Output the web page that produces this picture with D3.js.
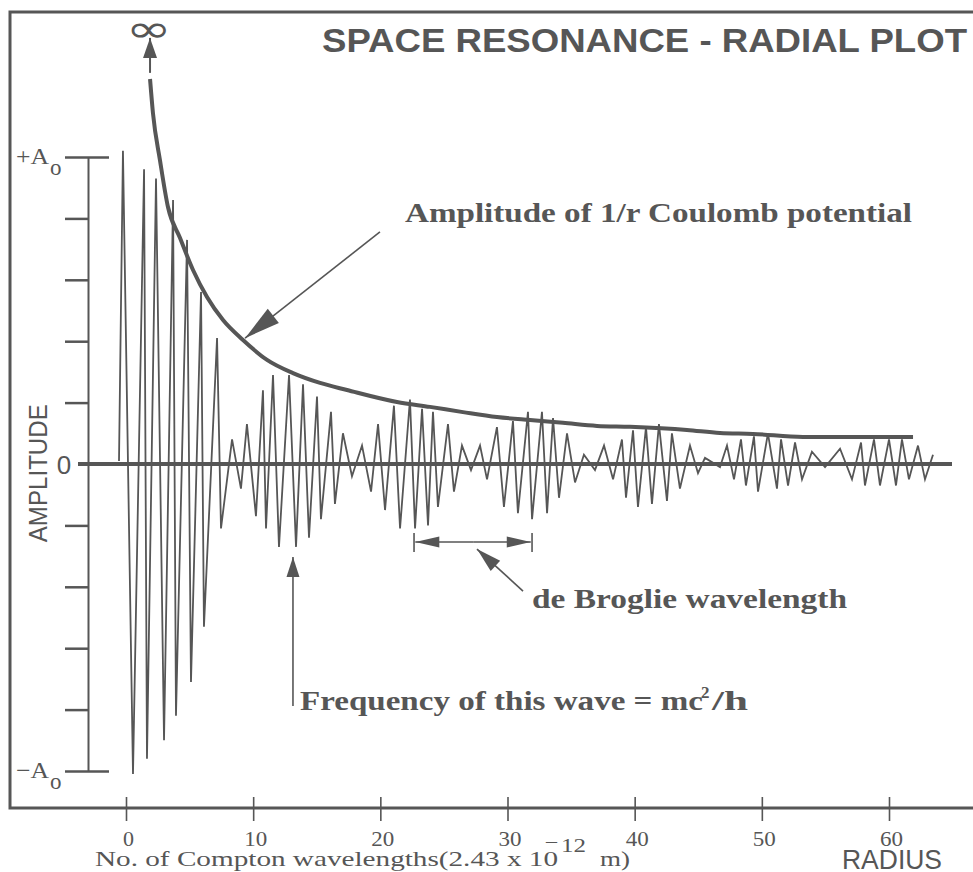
<!DOCTYPE html>
<html>
<head>
<meta charset="utf-8">
<script src="https://cdn.jsdelivr.net/npm/d3@7"></script>
<style>
  body { margin: 0; background: #fff; }
</style>
</head>
<body>
<svg id="chart" width="973" height="872"></svg>
<script>
// wave extremes: radius in Compton wavelengths, amplitude in units of A0
let waveR = [-0.55, -0.24, 0.55, 1.42, 1.65, 2.36, 2.99, 3.70, 3.93, 4.80, 5.11, 5.90, 6.13, 7.16, 7.47,
  8.34, 9.04, 9.51, 10.22, 10.77, 11.01, 11.56, 12.03, 12.82, 13.37, 13.92, 14.39, 15.02, 15.33, 16.12,
  16.43, 17.06, 17.77, 18.56, 19.27, 19.82, 20.37, 21.07, 21.55, 22.33, 22.73, 23.28, 23.75, 24.14,
  24.53, 25.32, 25.79, 26.42, 27.13, 27.84, 28.39, 29.17, 29.72, 30.43, 30.82, 31.61, 31.93, 32.71,
  33.11, 33.58, 34.05, 34.68, 35.31, 36.01, 36.88, 37.59, 38.30, 39.00, 39.32, 39.87, 40.26, 40.89,
  41.36, 41.91, 42.54, 42.93, 43.56, 44.35, 44.98, 45.53, 46.71, 47.26, 47.81, 48.36, 48.75, 49.38,
  49.70, 50.48, 51.19, 51.51, 52.06, 52.61, 53.16, 53.94, 54.97, 56.15, 57.09, 57.80, 58.11, 58.82,
  59.29, 60.00, 60.55, 61.02, 61.57, 62.28, 62.83, 63.46];
let waveA = [0.01, 1.02, -1.01, 0.96, -0.96, 0.93, -0.90, 0.86, -0.82, 0.73, -0.71, 0.56, -0.53, 0.41, -0.21,
  0.08, -0.08, 0.13, -0.17, 0.24, -0.21, 0.29, -0.27, 0.29, -0.27, 0.26, -0.24, 0.22, -0.18, 0.17,
  -0.13, 0.10, -0.04, 0.06, -0.09, 0.13, -0.15, 0.19, -0.21, 0.21, -0.21, 0.18, -0.20, 0.17,
  -0.14, 0.13, -0.09, 0.06, -0.02, 0.06, -0.05, 0.12, -0.14, 0.14, -0.16, 0.17, -0.18, 0.17,
  -0.16, 0.15, -0.11, 0.10, -0.06, 0.03, -0.02, 0.06, -0.05, 0.08, -0.11, 0.11, -0.14, 0.12,
  -0.13, 0.13, -0.12, 0.10, -0.08, 0.06, -0.03, 0.02, -0.01, 0.06, -0.05, 0.08, -0.07, 0.09,
  -0.09, 0.10, -0.08, 0.08, -0.07, 0.07, -0.05, 0.04, -0.01, 0.05, -0.05, 0.07, -0.07, 0.08,
  -0.07, 0.08, -0.07, 0.08, -0.05, 0.06, -0.05, 0.03];

// 1/r Coulomb amplitude envelope
let envR = [1.89, 2.12, 2.67, 3.30, 4.25, 5.27, 6.37, 7.63, 9.20, 11.09, 13.13, 15.26, 17.38, 21.31,
  23.90, 26.50, 29.17, 31.77, 34.36, 37.04, 39.63, 44.11, 46.71, 49.30, 53.24, 57.17, 61.89];
let envA = [1.254, 1.143, 0.990, 0.837, 0.736, 0.632, 0.544, 0.469, 0.404, 0.339, 0.296, 0.264, 0.241,
  0.202, 0.186, 0.169, 0.153, 0.143, 0.134, 0.124, 0.121, 0.111, 0.101, 0.098, 0.088, 0.088, 0.088];

let xTicks = [0, 10, 20, 30, 40, 50, 60];
let yTicks = [-1, -0.8, -0.6, -0.4, -0.2, 0.2, 0.4, 0.6, 0.8, 1];

let ink = '#565656';
let serif = '"Liberation Serif", "Times New Roman", serif';
let sans = '"Liberation Sans", Arial, sans-serif';

let svg = d3.select('#chart');

let xScale = d3.scaleLinear().domain([0, 60]).range([126, 889]);
let yScale = d3.scaleLinear().domain([-1, 1]).range([771, 157]);

let lineGen = d3.line()
    .x(d => xScale(d[0]))
    .y(d => yScale(d[1]));

/**
 * Arrow head triangle with its tip at `tip`, pointing away from `tail`.
 */
function headPoints(tip, tail, len, hw) {
	let dx = tail[0] - tip[0], dy = tail[1] - tip[1];
	let d = Math.hypot(dx, dy);
	let ux = dx / d, uy = dy / d;
	let bx = tip[0] + ux * len, by = tip[1] + uy * len;
	return [tip, [bx - uy * hw, by + ux * hw], [bx + uy * hw, by - ux * hw]];
}

function px(p) {
	return [xScale(p[0]), yScale(p[1])];
}

function arrow(tipD, tailD, len, hw, width) {
	let tip = px(tipD), tail = px(tailD);
	svg.append('line')
		.attr('x1', tip[0]).attr('y1', tip[1])
		.attr('x2', tail[0]).attr('y2', tail[1])
		.attr('stroke', ink).attr('stroke-width', width || 1.6);
	svg.append('polygon')
		.attr('points', headPoints(tip, tail, len, hw).map(p => p.join(',')).join(' '))
		.attr('fill', ink);
}

function label(x, y, str, size, opts) {
	opts = opts || {};
	let t = svg.append('text')
		.attr('x', x).attr('y', y)
		.attr('fill', ink)
		.style('font-family', opts.family || serif)
		.style('font-size', size + 'px')
		.text(str);
	if (opts.bold) t.style('font-weight', 'bold');
	if (opts.anchor) t.attr('text-anchor', opts.anchor);
	if (opts.len) t.attr('textLength', opts.len).attr('lengthAdjust', 'spacingAndGlyphs');
	return t;
}

// ---------- frame ----------
svg.append('path')
	.attr('d', 'M985,12H10V808H985')
	.attr('fill', 'none')
	.attr('stroke', ink)
	.attr('stroke-width', 3);

// ---------- x axis ----------
let xAxis = svg.append('g')
	.attr('transform', 'translate(0,808)')
	.call(d3.axisBottom(xScale).tickValues(xTicks).tickSizeOuter(0));
xAxis.select('.domain').remove();
xAxis.selectAll('line')
	.attr('y1', -11).attr('y2', 13)
	.attr('stroke', ink).attr('stroke-width', 1.6);
xAxis.selectAll('text')
	.attr('y', 23).attr('dy', '0.71em').attr('dx', 2)
	.attr('fill', ink)
	.attr('textLength', d => d === 0 ? 11 : 23).attr('lengthAdjust', 'spacingAndGlyphs')
	.style('font-family', serif).style('font-size', '21px');

// ---------- y axis ----------
let yAxis = svg.append('g')
	.attr('transform', 'translate(88,0)')
	.call(d3.axisLeft(yScale).tickValues(yTicks).tickSize(23).tickSizeOuter(0).tickFormat(''));
yAxis.select('.domain').attr('stroke', ink).attr('stroke-width', 2);
yAxis.selectAll('line')
	.attr('stroke', ink).attr('stroke-width', 2.5)
	.attr('x1', d => Math.abs(d) === 1 ? 21 : 0);

// amplitude labels
[[1, '+'], [-1, '\u2212']].forEach(([v, sign]) => {
	label(16, yScale(v) + 7, sign + 'A', 23, { len: 33 });
	label(50, yScale(v) + 18, 'o', 23);
});

label(64, yScale(0) + 10, '0', 26, { family: sans, anchor: 'middle' });

svg.append('text')
	.attr('transform', `translate(47,${yScale(-0.03)}) rotate(-90)`)
	.attr('text-anchor', 'middle')
	.attr('fill', ink)
	.attr('textLength', 138).attr('lengthAdjust', 'spacingAndGlyphs')
	.style('font-family', sans).style('font-size', '26px')
	.text('AMPLITUDE');

// ---------- zero line ----------
svg.append('line')
	.attr('x1', 78).attr('x2', 952)
	.attr('y1', yScale(0)).attr('y2', yScale(0))
	.attr('stroke', ink).attr('stroke-width', 4);

// ---------- wave ----------
svg.append('path')
	.attr('d', lineGen(d3.zip(waveR, waveA)))
	.attr('fill', 'none')
	.attr('stroke', ink)
	.attr('stroke-width', 1.8);

// ---------- 1/r envelope ----------
svg.append('path')
	.attr('d', lineGen.curve(d3.curveMonotoneX)(d3.zip(envR, envA)))
	.attr('fill', 'none')
	.attr('stroke', ink)
	.attr('stroke-width', 4);
lineGen.curve(d3.curveLinear);

// ---------- titles ----------
label(322, 52, 'SPACE RESONANCE - RADIAL PLOT', 34, { family: sans, bold: true, len: 645 });

// x axis caption, with the 10^-12 exponent set by hand
label(95, 866, 'No. of Compton wavelengths(2.43 x 10', 21, { len: 463 });
label(546, 846, '\u2013', 16, { len: 11 });
label(561, 852, '12', 18, { len: 25 });
label(600, 866, 'm)', 21, { len: 30 });

label(842, 869, 'RADIUS', 27, { family: sans, len: 100 });

// ---------- annotations ----------
// infinity marker above the start of the 1/r curve
arrow([1.89, 1.388], [1.89, 1.274], 20, 7, 2);
svg.append('text')
	.attr('transform', `translate(${xScale(1.79)},${yScale(1.375)}) scale(1.45,1)`)
	.attr('text-anchor', 'middle')
	.attr('fill', ink)
	.style('font-family', '"DejaVu Sans", sans-serif').style('font-size', '38px')
	.text('\u221E');

// Coulomb potential pointer
arrow([9.36, 0.410], [19.97, 0.756], 36, 9, 1.6);
label(xScale(21.94), yScale(0.788), 'Amplitude of 1/r Coulomb potential', 28, { bold: true, len: 507 });

// de Broglie wavelength span
let dbY = -0.254;
arrow([22.75, dbY], [27.3, dbY], 24, 5.5, 1.6);
arrow([31.83, dbY], [27.3, dbY], 24, 5.5, 1.6);
[22.65, 31.93].forEach(r => {
	svg.append('line')
		.attr('x1', xScale(r)).attr('x2', xScale(r))
		.attr('y1', yScale(dbY) - 9).attr('y2', yScale(dbY) + 10)
		.attr('stroke', ink).attr('stroke-width', 1.6);
});
arrow([27.60, -0.277], [31.22, -0.414], 25, 7, 1.6);
label(xScale(31.93), yScale(-0.469), 'de Broglie wavelength', 28, { bold: true, len: 315 });

// frequency pointer
arrow([13.13, -0.303], [13.13, -0.788], 20, 6.5, 1.6);
let fx = xScale(13.68), fy = yScale(-0.801);
label(fx, fy, 'Frequency of this wave = mc', 28, { bold: true, len: 403 });
label(fx + 401, fy - 12, '2', 17, { bold: true });
label(fx + 412, fy, '/h', 28, { bold: true, len: 36 });
</script>
</body>
</html>
